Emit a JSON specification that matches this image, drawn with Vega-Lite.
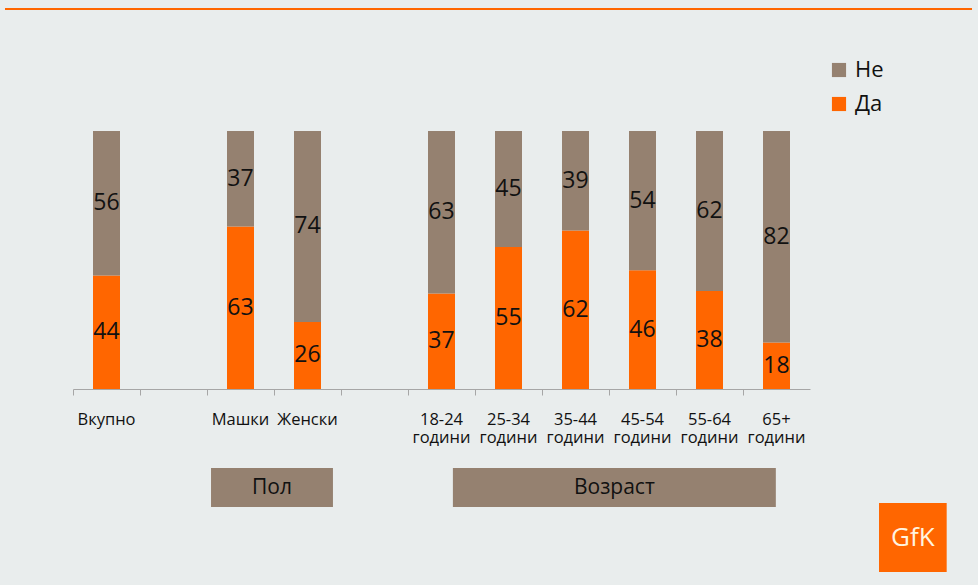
{
  "$schema": "https://vega.github.io/schema/vega-lite/v6.json",
  "background": "#e9eded",
  "autosize": {"type": "none"},
  "padding": {"left": 73, "top": 8, "right": 168, "bottom": 13},
  "width": 737,
  "height": 564,
  "config": {"view": {"stroke": null}, "font": "Open Sans"},
  "datasets": {
    "bars": [
      {"cat": "Вкупно", "ans": "Да", "v": 44}, {"cat": "Вкупно", "ans": "Не", "v": 56},
      {"cat": "Машки", "ans": "Да", "v": 63}, {"cat": "Машки", "ans": "Не", "v": 37},
      {"cat": "Женски", "ans": "Да", "v": 26}, {"cat": "Женски", "ans": "Не", "v": 74},
      {"cat": "18-24 години", "ans": "Да", "v": 37}, {"cat": "18-24 години", "ans": "Не", "v": 63},
      {"cat": "25-34 години", "ans": "Да", "v": 55}, {"cat": "25-34 години", "ans": "Не", "v": 45},
      {"cat": "35-44 години", "ans": "Да", "v": 62}, {"cat": "35-44 години", "ans": "Не", "v": 39},
      {"cat": "45-54 години", "ans": "Да", "v": 46}, {"cat": "45-54 години", "ans": "Не", "v": 54},
      {"cat": "55-64 години", "ans": "Да", "v": 38}, {"cat": "55-64 години", "ans": "Не", "v": 62},
      {"cat": "65+ години", "ans": "Да", "v": 18}, {"cat": "65+ години", "ans": "Не", "v": 82}
    ],
    "groups": [
      {"label": "Пол", "from": 2.06, "mid": 2.97, "to": 3.88},
      {"label": "Возраст", "from": 5.67, "mid": 8.08, "to": 10.49}
    ],
    "logo": [
      {"label": "GfK", "from": 12.03, "mid": 12.535, "to": 13.04}
    ],
    "strip": [{"s": 1}]
  },
  "resolve": {"scale": {"x": "independent"}},
  "layer": [
    {
      "data": {"name": "bars"},
      "transform": [
        {"stack": "v", "groupby": ["cat"], "sort": [{"field": "ans", "order": "ascending"}], "offset": "normalize", "as": ["y0", "y1"]}
      ],
      "mark": {"type": "bar", "width": 27},
      "encoding": {
        "x": {
          "field": "cat",
          "type": "nominal",
          "scale": {
            "domain": ["Вкупно", "_1", "Машки", "Женски", "_2", "18-24 години", "25-34 години", "35-44 години", "45-54 години", "55-64 години", "65+ години"],
            "paddingInner": 0,
            "paddingOuter": 0
          },
          "axis": {
            "title": null,
            "offset": -183,
            "domainColor": "#a6a6a6",
            "tickColor": "#a6a6a6",
            "tickSize": 6,
            "bandPosition": 0,
            "labelAngle": 0,
            "labelFontSize": 16.5,
            "labelColor": "#111111",
            "labelPadding": 16,
            "labelOverlap": false,
            "labelExpr": "indexof(datum.value, '_') === 0 ? '' : split(datum.value, ' ')"
          }
        },
        "y": {"field": "y0", "type": "quantitative", "scale": {"domain": [-0.7093, 1.4767], "nice": false, "zero": false}, "axis": null},
        "y2": {"field": "y1"},
        "color": {
          "field": "ans",
          "type": "nominal",
          "scale": {"domain": ["Не", "Да"], "range": ["#958170", "#ff6600"]},
          "legend": {
            "title": null,
            "orient": "none",
            "legendX": 755,
            "legendY": 51,
            "symbolType": "square",
            "symbolSize": 200,
            "labelFontSize": 22,
            "labelColor": "#111111",
            "rowPadding": 12,
            "labelOffset": 5
          }
        }
      }
    },
    {
      "data": {"name": "bars"},
      "transform": [
        {"stack": "v", "groupby": ["cat"], "sort": [{"field": "ans", "order": "ascending"}], "offset": "normalize", "as": ["y0", "y1"]},
        {"calculate": "(datum.y0 + datum.y1) / 2", "as": "ymid"}
      ],
      "mark": {"type": "text", "fontSize": 23, "color": "#111111"},
      "encoding": {
        "x": {
          "field": "cat",
          "type": "nominal",
          "scale": {
            "domain": ["Вкупно", "_1", "Машки", "Женски", "_2", "18-24 години", "25-34 години", "35-44 години", "45-54 години", "55-64 години", "65+ години"],
            "paddingInner": 0,
            "paddingOuter": 0
          },
          "axis": null
        },
        "y": {"field": "ymid", "type": "quantitative"},
        "text": {"field": "v", "type": "quantitative"}
      }
    },
    {
      "data": {"name": "groups"},
      "mark": {"type": "rect", "color": "#958170"},
      "encoding": {
        "x": {"field": "from", "type": "quantitative", "scale": {"domain": [0, 11]}, "axis": null},
        "x2": {"field": "to"},
        "y": {"datum": -0.3062, "type": "quantitative"},
        "y2": {"datum": -0.4574}
      }
    },
    {
      "data": {"name": "groups"},
      "mark": {"type": "text", "fontSize": 21, "color": "#111111"},
      "encoding": {
        "x": {"field": "mid", "type": "quantitative", "scale": {"domain": [0, 11]}, "axis": null},
        "y": {"datum": -0.3818, "type": "quantitative"},
        "text": {"field": "label"}
      }
    },
    {
      "data": {"name": "logo"},
      "mark": {"type": "rect", "color": "#ff6600"},
      "encoding": {
        "x": {"field": "from", "type": "quantitative", "scale": {"domain": [0, 11]}, "axis": null},
        "x2": {"field": "to"},
        "y": {"datum": -0.4419, "type": "quantitative"},
        "y2": {"datum": -0.7093}
      }
    },
    {
      "data": {"name": "logo"},
      "mark": {"type": "text", "fontSize": 26, "color": "#fff4e0"},
      "encoding": {
        "x": {"field": "mid", "type": "quantitative", "scale": {"domain": [0, 11]}, "axis": null},
        "y": {"datum": -0.5756, "type": "quantitative"},
        "text": {"field": "label"}
      }
    },
    {
      "data": {"name": "strip"},
      "mark": {"type": "rect", "color": "#ff6600"},
      "encoding": {
        "x": {"datum": -1.015, "type": "quantitative", "scale": {"domain": [0, 11]}, "axis": null},
        "x2": {"datum": 13.418},
        "y": {"datum": 1.4767, "type": "quantitative"},
        "y2": {"datum": 1.469}
      }
    }
  ]
}
